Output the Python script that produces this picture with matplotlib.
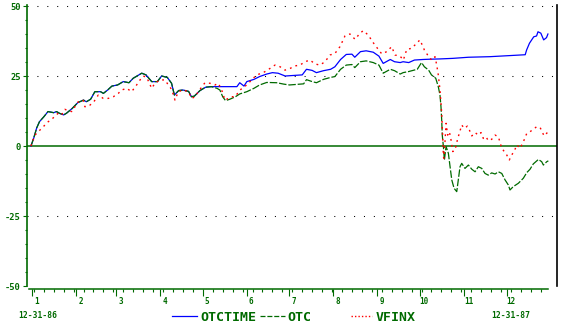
import matplotlib
matplotlib.use("Agg")
import matplotlib.pyplot as plt
from matplotlib.lines import Line2D
from matplotlib.transforms import blended_transform_factory

# percent change since 12-31-86, x = day of 1987
otctime_days = [0, 2, 4, 6, 9, 12, 16, 18, 20, 23, 25, 29, 33, 37, 39, 42, 45, 49, 51, 54,
                57, 61, 65, 69, 72, 76, 78, 81, 85, 89, 92, 96, 99, 101, 104, 107, 111, 113,
                115, 119, 123, 127, 145, 147, 150, 152, 157, 161, 166, 170, 174, 179, 191,
                194, 198, 201, 206, 211, 214, 218, 222, 226, 228, 232, 236, 241, 245, 248,
                253, 256, 260, 262, 266, 270, 276, 281, 288, 297, 308, 323, 341, 348, 349,
                351, 354, 356, 357, 359, 361, 363, 364]
otctime_vals = [0, 2.9, 6.4, 8.7, 10.4, 12.3, 11.9, 12.3, 11.7, 11.1, 11.7, 13.4, 15.5, 16.4,
                15.8, 16.7, 19.4, 19.4, 18.8, 20, 21.4, 21.8, 23, 22.6, 24.2, 25.4, 26, 25.4,
                23, 23, 25, 24.5, 22.4, 18.2, 19.8, 20, 19.5, 17.6, 17.8, 19.8, 21, 21.2,
                21.2, 22.6, 21.4, 23, 23.8, 24.8, 25.7, 26.2, 26, 25, 25.4, 27.4, 27, 26.2,
                26.9, 27.4, 28.3, 30.9, 32.7, 32.8, 31.7, 33.7, 34, 33.5, 32.1, 29.5, 30.9,
                30.1, 29.8, 30.1, 29.8, 30.7, 30.9, 31, 31.1, 31.3, 31.7, 31.9, 32.4, 32.6,
                34.3, 36.7, 39, 39.3, 40.8, 40.3, 37.9, 38.7, 40]

otc_days = [0, 2, 4, 6, 9, 12, 16, 18, 20, 23, 25, 29, 33, 37, 39, 42, 45, 49, 51, 54,
            57, 61, 65, 69, 72, 76, 78, 81, 85, 89, 92, 96, 99, 101, 104, 107, 111, 113,
            115, 119, 123, 127, 131, 133, 135, 137, 140, 144, 147, 152, 157, 161, 166, 173,
            178, 182, 192, 194, 198, 201, 206, 211, 214, 218, 222, 226, 228, 232, 236, 241,
            245, 248, 253, 256, 260, 262, 266, 272, 275, 277, 280, 282, 285, 286.8, 288,
            288.7, 289.2, 289.6, 290.4, 291.1, 292.3, 293.9, 295.1, 296.3, 297.9, 299.8,
            300.9, 302.1, 303.3, 305.6, 308, 310.4, 312.7, 315, 317.4, 319.7, 322, 324.4,
            326.8, 329.1, 331.5, 333.8, 336.1, 337.3, 339.6, 343.2, 346.7, 349.1, 351.4,
            353.7, 357.3, 359.6, 360.8, 363.2, 364.3]
otc_vals = [0, 2.9, 6.4, 8.7, 10.4, 12.3, 11.9, 12.3, 11.7, 11.1, 11.7, 13.4, 15.5, 16.4,
            15.8, 16.7, 19.4, 19.4, 18.8, 20, 21.4, 21.8, 23, 22.6, 24.2, 25.4, 26, 25.4,
            23, 23, 25, 24.5, 22.4, 18.2, 19.8, 20, 19.5, 17.6, 17.8, 19.8, 21, 21.2,
            20.6, 20, 17.6, 16.2, 16.7, 17.6, 18.6, 19.4, 20.6, 21.8, 22.7, 22.6, 22.1,
            21.8, 22.2, 23.7, 23, 22.6, 23.8, 24.5, 24.8, 27.4, 28.9, 29.1, 28, 30.1, 30.4,
            29.8, 28.9, 26, 27.4, 26.9, 25.7, 26.2, 26.6, 27.4, 29.8, 28.3, 27.1, 25.4,
            24.2, 21.2, 18.2, 14, 9.3, 3.9, -0.2, -5, -0.2, -2.6, -7.4, -12.1, -15.1,
            -16.3, -12.1, -7.4, -6.2, -8, -6.8, -8.3, -9.2, -7.4, -8, -9.8, -10.4, -9.6,
            -10, -9.2, -9.8, -12.1, -13.9, -15.7, -14.5, -13.3, -11.5, -9.5, -8.3, -6.4,
            -4.8, -5.6, -6.8, -5.6, -5.3]

vfinx_days = [0, 2.8, 6.3, 9.9, 12.2, 14.6, 16.9, 19.2, 21.6, 23.9, 26.3, 28.7, 33.3, 36.8,
              38, 41.5, 43.9, 47.4, 50.9, 54.4, 58, 61.5, 63.9, 67.4, 70.9, 74.4, 76.8, 79.1,
              81.5, 85, 87.3, 90.8, 94.4, 96.7, 99.1, 101.4, 103.7, 107.3, 110.8, 113.2,
              115.5, 117.8, 122.5, 126.1, 129.6, 131.9, 134.3, 136.6, 141.3, 143.7, 147.2,
              151.9, 158.9, 163.6, 168.3, 171.8, 175.4, 178.9, 182.4, 185.9, 189.4, 193,
              196.5, 200, 203.5, 207, 210.6, 214.1, 217.6, 221.1, 224.6, 228.2, 231.7, 234,
              237.5, 241, 243.5, 247, 250.5, 254, 256.3, 259.9, 262.2, 264.6, 268.1, 271.6,
              273.9, 277, 279.8, 282.2, 284.5, 285.7, 286.8, 288, 289.2, 289.9, 290.4,
              290.8, 292.3, 293.4, 294.6, 295.8, 297, 298.6, 300.5, 301.6, 303.3, 305.1,
              307.3, 308.7, 310.4, 312.7, 315, 316.9, 318.5, 320.4, 322, 324.4, 326.8,
              329.1, 331.5, 333.3, 335, 336.8, 338.5, 340.4, 342.1, 344.4, 346.7, 349.1,
              351.4, 353.7, 356.1, 358.5, 361.3, 363.6]
vfinx_vals = [0, 3.9, 5.7, 7.5, 8.7, 9.5, 10.7, 11.7, 11.1, 13.1, 12.6, 12.3, 15.8, 16.3,
              14, 14.6, 15.5, 18.2, 17, 17, 17.6, 18.8, 20, 20.6, 19.4, 21.8, 23.6, 25,
              24.5, 20.6, 22.4, 23.6, 23.6, 21.8, 20.2, 16.4, 19.4, 20, 19.4, 17,
              17.6, 19.4, 22.6, 22.4, 21.8, 22.4, 20, 16.4, 17.6, 17.6, 20,
              21.8, 25.4, 26.2, 27.7, 28.9, 28.3, 27.1, 27.7, 28.6, 28.9, 30.1,
              30.7, 29.3, 28.9, 30.1, 32.5, 33.1, 35.5, 39.3, 40, 38.1, 40.3, 41.2,
              39.6, 36.9, 35.2, 32.9, 33.7, 35.5, 32.5, 32.1, 30.7, 34.5, 34.9, 36.7,
              37.9, 34.3, 32.1, 30.7, 31.9, 28.9, 25.4, 20, 11.7, 3.3, -3.8,
              -4.4, 8.1, 3.9, 5.1, 2.1, -2, -1.4, 2.7, 4.5, 7.5, 6.3,
              7.1, 5.7, 3.6, 4.8, 3.9, 4.8, 2.7, 3.3, 1.9, 2.4, 3.9,
              3.3, -0.8, -2, -3.2, -5, -3.2, -1.7, 0.4, -0.8, 1.5, 4.5,
              5.1, 6, 6.9, 6.6, 3.6, 4.8]

month_days = [1, 32, 60, 91, 121, 152, 182, 213, 244, 274, 305, 335]
month_labels = [str(m) for m in range(1, 13)]
week_days = list(range(2, 365, 7))
y_major = [-50, -25, 0, 25, 50]
y_labels = ["-50", "-25", "0", "25", "50"]

GREEN = "#006a00"
MONO = "DejaVu Sans Mono"
W, H = 565, 331

fig = plt.figure(figsize=(W / 100, H / 100), dpi=100)
ax = fig.add_axes([26.7 / W, 1 - 288.8 / H, (557.3 - 26.7) / W, (288.8 - 5) / H])
ax.set_xlim(-3.0, 370.6)
ax.set_ylim(-51, 50.36)

# grid + zero line
for g in [50, 25, -25]:
    ax.axhline(g, color="black", lw=0.75, linestyle=(0, (1, 8.5)), zorder=1)
ax.axhline(0, color=GREEN, lw=1.1, zorder=2)

ax.plot(otctime_days, otctime_vals, color="blue", lw=0.9, zorder=3)
ax.plot(otc_days, otc_vals, color=GREEN, lw=0.9, linestyle=(0, (6, 1.5)), zorder=4)
ax.plot(vfinx_days, vfinx_vals, color="red", lw=1.0, linestyle=(0, (1.3, 3)), zorder=5)

# spines
ax.spines["top"].set_visible(False)
ax.spines["left"].set_color(GREEN)
ax.spines["left"].set_linewidth(1.2)
ax.spines["left"].set_bounds(-50, 50.36)
ax.spines["bottom"].set_color(GREEN)
ax.spines["bottom"].set_linewidth(1.1)
ax.spines["bottom"].set_bounds(-1.2, 364.3)
ax.spines["right"].set_color("black")
ax.spines["right"].set_linewidth(1.2)
ax.spines["right"].set_bounds(-50, 50.36)

# y axis
ax.set_yticks(y_major)
ax.set_yticklabels(y_labels, family=MONO, fontsize=6.3, weight="bold", color=GREEN)
ax.set_yticks(range(-50, 51, 5), minor=True)
ax.tick_params(axis="y", which="major", direction="out", length=2.9, width=0.8,
               color=GREEN, pad=1.4)
ax.tick_params(axis="y", which="minor", direction="out", length=1.6, width=0.8,
               color=GREEN)

# x axis
ax.set_xticks(month_days)
ax.set_xticklabels([])
ax.set_xticks(week_days, minor=True)
ax.tick_params(axis="x", which="major", direction="out", length=4.8, width=0.8,
               color=GREEN)
ax.tick_params(axis="x", which="minor", direction="out", length=2.4, width=0.8,
               color=GREEN)
tr = blended_transform_factory(ax.transData, ax.transAxes)
for d, lab in zip(month_days, month_labels):
    ax.text(d + 3, -0.045, lab, transform=tr, ha="center", va="center",
            family=MONO, fontsize=5.5, weight="bold", color=GREEN)

# start / end dates
fig.text(37.8 / W, 1 - 316 / H, "12-31-86", ha="center", va="center",
         family=MONO, fontsize=5.8, weight="bold", color=GREEN)
fig.text(510.7 / W, 1 - 316 / H, "12-31-87", ha="center", va="center",
         family=MONO, fontsize=5.8, weight="bold", color=GREEN)

# legend drawn by hand
ly = 1 - 315.5 / H
legend_items = [
    ((172.3, 196.7), 200, "OTCTIME", dict(color="blue", lw=0.9)),
    ((260, 285), 287.3, "OTC", dict(color=GREEN, lw=0.9, linestyle=(0, (4, 1.5)))),
    ((351, 372), 376, "VFINX", dict(color="red", lw=1.0, linestyle=(0, (1, 1.5)))),
]
for (x0, x1), tx, name, style in legend_items:
    fig.add_artist(Line2D([x0 / W, x1 / W], [ly, ly], transform=fig.transFigure, **style))
    fig.text(tx / W, 1 - 317.7 / H, name, ha="left", va="center",
             family=MONO, fontsize=9.5, weight="bold", color=GREEN)

fig.savefig("out.png", dpi=100)
